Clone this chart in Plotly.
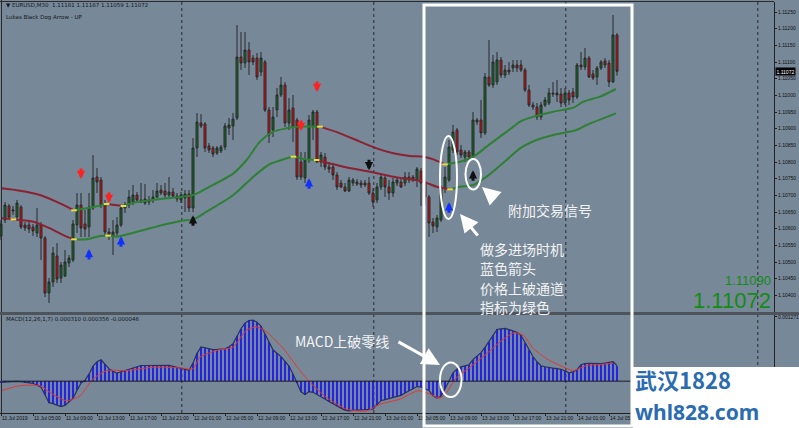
import plotly.graph_objects as go

W, H = 799, 428
BG = "#778899"

# ---------------- EURUSD M30 bars ----------------
opens = [
    1.10578, 1.10626, 1.10668, 1.10653, 1.10635, 1.10665, 1.10611, 1.10611, 1.10605, 1.10587,
    1.10611, 1.10572, 1.10407, 1.10440, 1.10518, 1.10452, 1.10458, 1.10497, 1.10506, 1.10611,
    1.10671, 1.10614, 1.10605, 1.10662, 1.10755, 1.10746, 1.10674, 1.10590, 1.10578, 1.10587,
    1.10611, 1.10662, 1.10671, 1.10680, 1.10701, 1.10686, 1.10677, 1.10686, 1.10686, 1.10695,
    1.10716, 1.10713, 1.10701, 1.10710, 1.10698, 1.10686, 1.10692, 1.10704, 1.10662, 1.10842,
    1.10917, 1.10914, 1.10848, 1.10842, 1.10827, 1.10833, 1.10845, 1.10902, 1.10908, 1.10932,
    1.11115, 1.11097, 1.11136, 1.11112, 1.11112, 1.11070, 1.11100, 1.10956, 1.10896, 1.10956,
    1.11001, 1.11031, 1.10917, 1.10962, 1.10926, 1.10800, 1.10752, 1.10806, 1.10905, 1.10950,
    1.10800, 1.10815, 1.10785, 1.10785, 1.10761, 1.10737, 1.10725, 1.10713, 1.10737, 1.10740,
    1.10731, 1.10737, 1.10737, 1.10707, 1.10686, 1.10725, 1.10752, 1.10725, 1.10707, 1.10737,
    1.10740, 1.10737, 1.10755, 1.10755, 1.10746, 1.10773, 1.10737, 1.10695, 1.10620, 1.10605,
    1.10626, 1.10722, 1.10746, 1.10836, 1.10896, 1.10836, 1.10815, 1.10830, 1.10815, 1.10926,
    1.10926, 1.10887, 1.11055, 1.11031, 1.11040, 1.11106, 1.11061, 1.11076, 1.11082, 1.11091,
    1.11091, 1.11076, 1.11016, 1.10971, 1.10965, 1.10935, 1.10971, 1.10977, 1.11007, 1.11001,
    1.11004, 1.10977, 1.11007, 1.11010, 1.10995, 1.11091, 1.11085, 1.11112, 1.11064, 1.11055,
    1.11082, 1.11103, 1.11097, 1.11040, 1.11181,
]
highs = [
    1.10626, 1.10680, 1.10674, 1.10668, 1.10686, 1.10671, 1.10620, 1.10620, 1.10614, 1.10662,
    1.10620, 1.10578, 1.10452, 1.10545, 1.10557, 1.10500, 1.10536, 1.10521, 1.10626, 1.10707,
    1.10707, 1.10656, 1.10707, 1.10821, 1.10782, 1.10755, 1.10686, 1.10602, 1.10626, 1.10635,
    1.10671, 1.10680, 1.10716, 1.10731, 1.10710, 1.10737, 1.10734, 1.10698, 1.10716, 1.10737,
    1.10731, 1.10737, 1.10755, 1.10722, 1.10707, 1.10710, 1.10716, 1.10716, 1.10872, 1.10947,
    1.10944, 1.10920, 1.10857, 1.10848, 1.10848, 1.10851, 1.10917, 1.10932, 1.10947, 1.11211,
    1.11190, 1.11190, 1.11160, 1.11121, 1.11127, 1.11130, 1.11106, 1.10965, 1.10965, 1.11022,
    1.11055, 1.11040, 1.10992, 1.11001, 1.10932, 1.10830, 1.10830, 1.10941, 1.10956, 1.10956,
    1.10830, 1.10827, 1.10800, 1.10797, 1.10770, 1.10746, 1.10737, 1.10755, 1.10752, 1.10749,
    1.10746, 1.10746, 1.10755, 1.10722, 1.10737, 1.10767, 1.10761, 1.10746, 1.10752, 1.10755,
    1.10752, 1.10770, 1.10770, 1.10761, 1.10785, 1.10782, 1.10746, 1.10701, 1.10632, 1.10641,
    1.10731, 1.10785, 1.10866, 1.10911, 1.10902, 1.10851, 1.10836, 1.10836, 1.10950, 1.10932,
    1.10986, 1.11067, 1.11166, 1.11121, 1.11130, 1.11115, 1.11091, 1.11100, 1.11106, 1.11106,
    1.11106, 1.11082, 1.11031, 1.10980, 1.10977, 1.10980, 1.10995, 1.11022, 1.11040, 1.11046,
    1.11022, 1.11022, 1.11016, 1.11022, 1.11097, 1.11130, 1.11142, 1.11118, 1.11076, 1.11088,
    1.11106, 1.11112, 1.11106, 1.11241, 1.11187,
]
lows = [
    1.10566, 1.10617, 1.10629, 1.10641, 1.10626, 1.10599, 1.10593, 1.10587, 1.10578, 1.10575,
    1.10506, 1.10395, 1.10377, 1.10425, 1.10437, 1.10437, 1.10455, 1.10485, 1.10500, 1.10587,
    1.10575, 1.10575, 1.10575, 1.10656, 1.10707, 1.10662, 1.10575, 1.10566, 1.10521, 1.10575,
    1.10605, 1.10647, 1.10662, 1.10671, 1.10677, 1.10677, 1.10671, 1.10671, 1.10677, 1.10692,
    1.10701, 1.10692, 1.10695, 1.10692, 1.10680, 1.10677, 1.10650, 1.10650, 1.10650, 1.10815,
    1.10902, 1.10830, 1.10827, 1.10815, 1.10821, 1.10827, 1.10836, 1.10881, 1.10866, 1.10926,
    1.11076, 1.11082, 1.11061, 1.11091, 1.11046, 1.11058, 1.10950, 1.10857, 1.10875, 1.10935,
    1.10995, 1.10905, 1.10896, 1.10860, 1.10746, 1.10746, 1.10737, 1.10797, 1.10866, 1.10797,
    1.10785, 1.10776, 1.10767, 1.10746, 1.10716, 1.10722, 1.10710, 1.10710, 1.10728, 1.10728,
    1.10722, 1.10725, 1.10701, 1.10665, 1.10677, 1.10716, 1.10695, 1.10686, 1.10695, 1.10728,
    1.10722, 1.10728, 1.10737, 1.10740, 1.10725, 1.10668, 1.10671, 1.10575, 1.10587, 1.10590,
    1.10620, 1.10707, 1.10740, 1.10827, 1.10821, 1.10812, 1.10800, 1.10806, 1.10806, 1.10911,
    1.10872, 1.10881, 1.11025, 1.11022, 1.11031, 1.11052, 1.11052, 1.11061, 1.11070, 1.11070,
    1.11070, 1.11010, 1.10965, 1.10956, 1.10926, 1.10926, 1.10965, 1.10971, 1.10995, 1.10980,
    1.10965, 1.10971, 1.10971, 1.10977, 1.10989, 1.11076, 1.11076, 1.11052, 1.11046, 1.11031,
    1.11076, 1.11082, 1.11025, 1.11037, 1.11059,
]
closes = [
    1.10614, 1.10671, 1.10635, 1.10656, 1.10677, 1.10605, 1.10602, 1.10599, 1.10593, 1.10611,
    1.10572, 1.10407, 1.10440, 1.10527, 1.10449, 1.10491, 1.10500, 1.10512, 1.10614, 1.10671,
    1.10602, 1.10599, 1.10665, 1.10752, 1.10740, 1.10671, 1.10590, 1.10584, 1.10590, 1.10611,
    1.10662, 1.10671, 1.10695, 1.10701, 1.10686, 1.10680, 1.10689, 1.10680, 1.10695, 1.10713,
    1.10707, 1.10701, 1.10710, 1.10698, 1.10689, 1.10701, 1.10704, 1.10662, 1.10842, 1.10920,
    1.10908, 1.10842, 1.10836, 1.10824, 1.10842, 1.10845, 1.10908, 1.10911, 1.10929, 1.11115,
    1.11097, 1.11136, 1.11100, 1.11100, 1.11055, 1.11112, 1.10956, 1.10881, 1.10935, 1.11001,
    1.11031, 1.10917, 1.10956, 1.10905, 1.10755, 1.10755, 1.10806, 1.10926, 1.10950, 1.10800,
    1.10821, 1.10785, 1.10779, 1.10761, 1.10725, 1.10725, 1.10713, 1.10746, 1.10746, 1.10734,
    1.10737, 1.10731, 1.10707, 1.10680, 1.10725, 1.10755, 1.10725, 1.10707, 1.10740, 1.10746,
    1.10725, 1.10755, 1.10746, 1.10746, 1.10779, 1.10737, 1.10695, 1.10617, 1.10608, 1.10632,
    1.10722, 1.10755, 1.10845, 1.10890, 1.10830, 1.10821, 1.10830, 1.10815, 1.10926, 1.10920,
    1.10887, 1.11055, 1.11031, 1.11100, 1.11106, 1.11061, 1.11076, 1.11070, 1.11091, 1.11082,
    1.11076, 1.11016, 1.10971, 1.10965, 1.10935, 1.10971, 1.10986, 1.11007, 1.11004, 1.11007,
    1.10977, 1.11007, 1.10986, 1.10995, 1.11091, 1.11085, 1.11112, 1.11055, 1.11052, 1.11082,
    1.11100, 1.11091, 1.11040, 1.11181, 1.11072,
]
bars = list(range(len(opens)))

ask_price = 1.11090

# ---------------- channel bands ----------------
upper_bar = [0, 4.75, 9.75, 14.75, 18.25, 23.1, 26.4, 30.6, 33.1, 37.25, 41.4, 45.2, 48.1, 51.4,
             58.1, 61.4, 64.75, 68.1, 71.4, 73.9, 79.75, 84.75, 89.75, 93.9, 98.1, 102.25, 105.6,
             108.1, 111, 114.75, 118.1, 121.4, 124.75, 128.1, 129.75, 133.1, 138.1, 143.1, 145.6,
             149.75, 153.75]
upper_val = [1.10721, 1.10714, 1.10701, 1.10676, 1.10655, 1.10665, 1.10674, 1.10668, 1.10678,
             1.10685, 1.10691, 1.10696, 1.10701, 1.10721, 1.10766, 1.10806, 1.10861, 1.10891,
             1.10901, 1.10906, 1.10906, 1.10886, 1.10861, 1.10841, 1.10826, 1.10818, 1.10816,
             1.10808, 1.10793, 1.10801, 1.10816, 1.10846, 1.10876, 1.10906, 1.10921, 1.10936,
             1.10951, 1.10963, 1.10981, 1.10996, 1.11019]
upper_trend = "RRRRGGRGGGGGGGGGGGGGRRRRRRRRGGGGGGGGGGGGG"

lower_bar = [0, 3.1, 8.1, 12.25, 16.4, 18.25, 21.4, 24.75, 26.75, 28.9, 33.1, 37.25, 41.4, 45.2,
             48.1, 51.4, 58.1, 63.1, 67.25, 68.9, 73.1, 76, 78.9, 85.6, 92.25, 98.1, 102.25, 105.6,
             108.9, 112.25, 114.75, 118.1, 121.4, 126.4, 129.75, 133.9, 138.1, 143.9, 146.4, 153.75]
lower_val = [1.10631, 1.10628, 1.10621, 1.10601, 1.10576, 1.10568, 1.10568, 1.10578, 1.10579,
             1.10576, 1.10588, 1.10601, 1.10614, 1.10624, 1.10628, 1.10651, 1.10701, 1.10756,
             1.10794, 1.10801, 1.10816, 1.10808, 1.10806, 1.10786, 1.10771, 1.10756, 1.10748,
             1.10741, 1.10726, 1.10718, 1.10726, 1.10731, 1.10756, 1.10806, 1.10841, 1.10866,
             1.10881, 1.10896, 1.10911, 1.10946]
lower_trend = "RRRRR" + "G" * 17 + "R" * 7 + "G" * 11
lower_touch = [3.1, 26.75, 73.1]

# ---------------- signal arrows ----------------
sell_bar, sell_val = [20, 27, 75, 79], [1.10749, 1.10677, 1.10893, 1.11010]
buy_bar, buy_val = [22, 30, 77, 112], [1.10539, 1.10577, 1.10751, 1.10679]
dog_up_bar, dog_up_val = [48, 118], [1.10640, 1.10775]
dog_dn_bar, dog_dn_val = [92], [1.10775]

# ---------------- MACD ----------------
macd = [
    -0.000022, -0.000014, -0.000006, -0.000004, -0.000004, -0.000008, -0.000020, -0.000032, -0.000042, -0.000080,
    -0.000118, -0.000270, -0.000426, -0.000444, -0.000480, -0.000504, -0.000480, -0.000420, -0.000342, -0.000182,
    -0.000042, 0.000020, 0.000138, 0.000298, 0.000384, 0.000424, 0.000344, 0.000248, 0.000194, 0.000158,
    0.000186, 0.000212, 0.000244, 0.000266, 0.000290, 0.000310, 0.000310, 0.000310, 0.000310, 0.000314,
    0.000318, 0.000322, 0.000314, 0.000296, 0.000278, 0.000258, 0.000236, 0.000216, 0.000358, 0.000550,
    0.000676, 0.000662, 0.000644, 0.000626, 0.000630, 0.000636, 0.000642, 0.000680, 0.000740, 0.000890,
    0.001038, 0.001150, 0.001202, 0.001210, 0.001166, 0.001092, 0.000940, 0.000784, 0.000622, 0.000554,
    0.000486, 0.000392, 0.000300, 0.000142, -0.000036, -0.000210, -0.000266, -0.000206, -0.000220, -0.000260,
    -0.000302, -0.000354, -0.000404, -0.000452, -0.000494, -0.000534, -0.000572, -0.000586, -0.000580, -0.000574,
    -0.000570, -0.000566, -0.000560, -0.000556, -0.000464, -0.000386, -0.000366, -0.000346, -0.000326, -0.000306,
    -0.000280, -0.000236, -0.000194, -0.000150, -0.000106, -0.000112, -0.000148, -0.000182, -0.000290, -0.000336,
    -0.000300, -0.000158, 0.000002, 0.000166, 0.000242, 0.000284, 0.000300, 0.000326, 0.000426, 0.000498,
    0.000566, 0.000670, 0.000782, 0.000906, 0.001024, 0.001034, 0.001044, 0.001020, 0.000998, 0.000968,
    0.000908, 0.000762, 0.000622, 0.000488, 0.000384, 0.000306, 0.000286, 0.000268, 0.000258, 0.000250,
    0.000236, 0.000200, 0.000164, 0.000184, 0.000228, 0.000326, 0.000350, 0.000354, 0.000352, 0.000348,
    0.000346, 0.000360, 0.000374, 0.000388, 0.000310,
]
sig_bar = [0, 4.75, 9.75, 12.25, 16.4, 19.75, 23, 26.4, 31.4, 38, 44.75, 48, 49.75, 54, 58, 61.4,
           64, 66.4, 70.6, 74.75, 77.25, 81.4, 86.4, 91.4, 94.75, 99.75, 104.3, 107.25, 109.75,
           111.4, 113.9, 117.25, 121.4, 124.75, 128.1, 130.6, 133.1, 136.4, 139.75, 143.1, 146.4,
           149.75, 153.1]
sig_val = [-0.00019, -0.00009, -0.00009, -0.000224, -0.00039, -0.00029, 0.000044, 0.00021, 0.00021,
           0.000276, 0.000264, 0.000244, 0.000476, 0.00061, 0.000676, 0.00101, 0.001076, 0.000976,
           0.000644, 0.00021, -0.000024, -0.000324, -0.000556, -0.00059, -0.000456, -0.000356,
           -0.00019, -0.000256, -0.000336, -0.000224, 0.000076, 0.000276, 0.000544, 0.000776,
           0.000956, 0.00091, 0.000644, 0.000444, 0.00031, 0.00021, 0.00031, 0.00033, 0.000356]
macd_top_label = 0.001271

# ---------------- axes labels ----------------
price_ticks = [1.11250, 1.11200, 1.11150, 1.11100, 1.11050, 1.11000, 1.10950, 1.10900, 1.10850,
               1.10800, 1.10750, 1.10700, 1.10650, 1.10600, 1.10550, 1.10500, 1.10450, 1.10400]
time_bars = [0, 8, 16, 24, 32, 40, 48, 56, 64, 72, 80, 88, 96, 104, 112, 120, 128, 136, 144, 152]
time_text = ["11 Jul 2019", "11 Jul 05:00", "11 Jul 09:00", "11 Jul 13:00", "11 Jul 17:00",
             "11 Jul 21:00", "12 Jul 01:00", "12 Jul 05:00", "12 Jul 09:00", "12 Jul 13:00",
             "12 Jul 17:00", "12 Jul 21:00", "13 Jul 01:00", "13 Jul 05:00", "13 Jul 09:00",
             "13 Jul 13:00", "13 Jul 17:00", "13 Jul 21:00", "14 Jul 01:00", "14 Jul 05:00"]
grid_bars = [45.2, 93.2, 141.2, 189.2]

# ---------------- layout geometry (pixels) ----------------
PLOT_R = 774
MAIN_T, MAIN_B = 2, 312
MACD_T, MACD_B = 315, 413


def fx(px):
    return px / W


def fy(py):
    return 1 - py / H


fig = go.Figure()

# candles
fig.add_trace(go.Candlestick(
    x=bars, open=opens, high=highs, low=lows, close=closes,
    increasing=dict(fillcolor="#0e7020", line=dict(color="#2a2a2a", width=1)),
    decreasing=dict(fillcolor="#e30a0a", line=dict(color="#2a2a2a", width=1)),
    whiskerwidth=0, xaxis="x", yaxis="y", hoverinfo="skip", showlegend=False,
))

# channel bands with trend colouring
BAND_COL = {"R": "#8a2232", "G": "#2f8034"}


def add_band(bx, by, trend, touch):
    start = 0
    n = len(bx)
    for i in range(1, n):
        if trend[i] != trend[start] or i == n - 1:
            fig.add_trace(go.Scatter(
                x=bx[start:i + 1], y=by[start:i + 1], mode="lines",
                line=dict(color=BAND_COL[trend[start]], width=2, shape="spline", smoothing=0.7),
                hoverinfo="skip", showlegend=False, xaxis="x", yaxis="y"))
            start = i
    mx = [bx[i] for i in range(1, n) if trend[i] != trend[i - 1]]
    my = [by[i] for i in range(1, n) if trend[i] != trend[i - 1]]
    for t in touch:
        k = bx.index(t)
        mx.append(bx[k])
        my.append(by[k])
    fig.add_trace(go.Scatter(
        x=mx, y=my, mode="markers",
        marker=dict(symbol="line-ew", size=4, line=dict(color="#e8e040", width=2)),
        hoverinfo="skip", showlegend=False, xaxis="x", yaxis="y"))


add_band(upper_bar, upper_val, upper_trend, [])
add_band(lower_bar, lower_val, lower_trend, lower_touch)

# MACD histogram, main line and signal
fig.add_trace(go.Bar(x=bars, y=macd, width=0.3, marker=dict(color="#2424e6", line=dict(width=0)),
                     xaxis="x", yaxis="y2", hoverinfo="skip", showlegend=False))
fig.add_trace(go.Scatter(x=bars, y=macd, mode="lines", line=dict(color="#283060", width=1.2),
                         xaxis="x", yaxis="y2", hoverinfo="skip", showlegend=False))
fig.add_trace(go.Scatter(x=sig_bar, y=sig_val, mode="lines",
                         line=dict(color="#e8352f", width=1, shape="spline", smoothing=0.6),
                         xaxis="x", yaxis="y2", hoverinfo="skip", showlegend=False))

annotations = []
shapes = []


# indicator arrows: stem with a small head
def add_arrows(bx, by, color, up):
    for b, v in zip(bx, by):
        annotations.append(dict(
            x=b, y=v, xref="x", yref="y", text="", showarrow=True,
            ax=0, ay=12 if up else -12, axref="pixel", ayref="pixel",
            arrowhead=2, arrowsize=0.55, arrowwidth=3, arrowcolor=color, standoff=0))


add_arrows(sell_bar, sell_val, "#ff2020", False)
add_arrows(buy_bar, buy_val, "#1030ff", True)
add_arrows(dog_up_bar, dog_up_val, "#101010", True)
add_arrows(dog_dn_bar, dog_dn_val, "#101010", False)

# grid lines
for g in grid_bars:
    shapes.append(dict(type="line", xref="x", yref="paper", x0=g, x1=g,
                       y0=fy(MACD_B), y1=fy(MAIN_T),
                       line=dict(color="#2b2b33", width=1, dash="dot"), layer="below"))

# frames and separators
shapes.append(dict(type="line", xref="paper", yref="paper", x0=fx(1.5), x1=fx(1.5),
                   y0=fy(MACD_B), y1=fy(0), line=dict(color="#2a2a2a", width=1)))
shapes.append(dict(type="line", xref="paper", yref="paper", x0=0, x1=fx(PLOT_R),
                   y0=fy(1.5), y1=fy(1.5), line=dict(color="#2a2a2a", width=1)))
shapes.append(dict(type="rect", xref="paper", yref="paper", x0=0, x1=1,
                   y0=fy(315), y1=fy(312), fillcolor="#4e545c", line=dict(width=0)))
shapes.append(dict(type="line", xref="paper", yref="y2", x0=fx(2), x1=fx(PLOT_R), y0=0, y1=0,
                   line=dict(color="#1a1a24", width=1)))

# white highlight frame
shapes.append(dict(type="rect", xref="paper", yref="paper", x0=fx(424), x1=fx(632),
                   y0=fy(426), y1=fy(5), line=dict(color="white", width=3), layer="above"))

# ellipses
for (x0, x1, y0, y1) in [(440, 457, 136, 219), (465.5, 481, 159, 189.5), (440, 461.5, 362.5, 397)]:
    shapes.append(dict(type="circle", xref="paper", yref="paper", x0=fx(x0), x1=fx(x1),
                       y0=fy(y1), y1=fy(y0), line=dict(color="white", width=2), layer="above"))

# watermark box
shapes.append(dict(type="rect", xref="paper", yref="paper", x0=fx(633), x1=1,
                   y0=0, y1=fy(367), fillcolor="white", line=dict(width=0), layer="above"))

# callout arrows (head -> tail offsets in pixels)
for hx, hy, tx, ty in [(460, 214, 479, 237), (482, 187, 497, 200), (440, 365, 397, 341)]:
    annotations.append(dict(x=fx(hx), y=fy(hy), xref="paper", yref="paper", text="",
                            showarrow=True, ax=tx - hx, ay=ty - hy, axref="pixel", ayref="pixel",
                            arrowhead=2, arrowsize=1.2, arrowwidth=3, arrowcolor="white",
                            standoff=0))

CJK = "Noto Sans CJK SC"
TXT = "#f3f3f3"


def label(text, px, py, size, color, family, xanchor="left", yanchor="middle", **kw):
    annotations.append(dict(x=fx(px), y=fy(py), xref="paper", yref="paper", text=text,
                            showarrow=False, xanchor=xanchor, yanchor=yanchor,
                            font=dict(size=size, color=color, family=family), **kw))


label("附加交易信号", 506, 210, 14, TXT, CJK)
for i, line in enumerate(["做多进场时机", "蓝色箭头", "价格上破通道", "指标为绿色"]):
    label(line, 478, 249 + 19.3 * i, 14, TXT, CJK)
label("MACD上破零线", 293, 341, 14, TXT, CJK)

# header lines
label("▼ EURUSD,M30  %.5f %.5f %.5f %.5f" % (opens[-1], highs[-1], lows[-1], closes[-1]),
      4, 5.5, 5.5, "#14181c", "DejaVu Sans")
label("Lukas Black Dog Arrow - UP", 4, 17, 5.5, "#14181c", "DejaVu Sans")
label("MACD(12,26,1,7) %.6f %.6f %.6f" % (macd[-1], sig_val[-1], macd[-1] - sig_val[-1]),
      4, 318.5, 5.5, "#14181c", "DejaVu Sans")

# bid / ask readout
label("%.5f" % ask_price, PLOT_R - 1, 280.5, 13, "#138c13", "Liberation Sans", xanchor="right")
label("%.5f" % closes[-1], PLOT_R - 1, 300, 22, "#138c13", "Liberation Sans", xanchor="right")

# current price box on the scale
annotations.append(dict(x=fx(PLOT_R + 1), y=closes[-1], xref="paper", yref="y",
                        text="%.5f" % closes[-1], showarrow=False, xanchor="left",
                        yanchor="middle", bgcolor="#000000", borderpad=0.5,
                        font=dict(size=5, color="white", family="Liberation Sans")))

# watermark
label("<b>武汉1828</b>", 634, 396, 22, "#2b6cb0", CJK, yanchor="bottom", borderpad=0)
label("<b>whl828.com</b>", 634, 396.5, 21, "#2b6cb0", "Noto Sans", yanchor="top", borderpad=0)

TICKFONT = dict(size=5, color="#111", family="Liberation Sans")

fig.update_layout(
    width=W, height=H, margin=dict(l=0, r=0, t=0, b=0),
    paper_bgcolor=BG, plot_bgcolor=BG, showlegend=False, hovermode=False,
    bargap=0,
    xaxis=dict(domain=[0, fx(PLOT_R)], range=[-0.25, 193.25], anchor="y2",
               showgrid=False, zeroline=False, rangeslider=dict(visible=False),
               tickmode="array", tickvals=time_bars, ticktext=time_text, tickangle=0,
               ticks="outside", ticklen=2, tickcolor="#222", ticklabelposition="outside right",
               tickfont=TICKFONT, ticklabelstandoff=0,
               showline=True, linecolor="#222", linewidth=1, automargin=False),
    yaxis=dict(domain=[fy(MAIN_B), fy(MAIN_T)], range=[1.10350, 1.11280], side="right",
               anchor="x", showgrid=False, zeroline=False, tickmode="array",
               tickvals=price_ticks, ticktext=["%.5f" % v for v in price_ticks],
               ticks="outside", ticklen=2, tickcolor="#222", tickfont=TICKFONT,
               ticklabelstandoff=0,
               showline=True, linecolor="#222", linewidth=1, automargin=False),
    yaxis2=dict(domain=[fy(MACD_B), fy(MACD_T)], range=[-0.00063, 0.00131], side="right",
                anchor="x", showgrid=False, zeroline=False, tickmode="array",
                tickvals=[macd_top_label], ticktext=["%.6f" % macd_top_label],
                ticks="outside", ticklen=2, tickcolor="#222", tickfont=TICKFONT,
                ticklabelstandoff=0,
                showline=True, linecolor="#222", linewidth=1, automargin=False),
    shapes=shapes, annotations=annotations,
)

fig.write_html("out.html")
